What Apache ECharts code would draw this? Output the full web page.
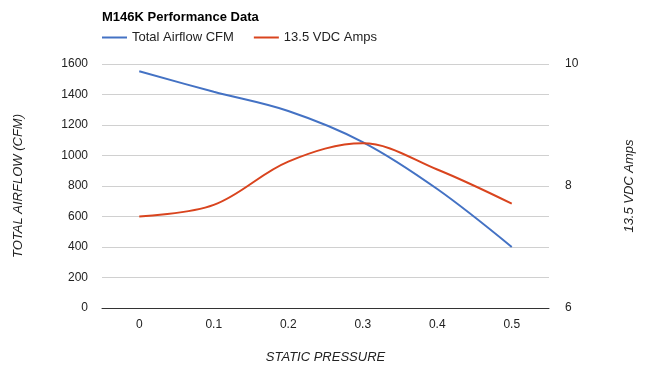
<!DOCTYPE html>
<html>
<head>
<meta charset="utf-8">
<script src="https://cdn.jsdelivr.net/npm/echarts@6/dist/echarts.min.js"></script>
<style>html,body{margin:0;padding:0;background:#fff;}#c{width:655px;height:369px;}</style>
</head>
<body>
<div id="c"></div>
<script>
var categories = ['0', '0.1', '0.2', '0.3', '0.4', '0.5'];
var airflow = [1552, 1418, 1292, 1088, 780, 400];
var amps = [7.5, 7.69, 8.4, 8.7, 8.27, 7.71];
var titleText = 'M146K Performance Data';
var airflowName = 'Total Airflow CFM';
var ampsName = '13.5 VDC Amps';

var chart = echarts.init(document.getElementById('c'), null, {renderer: 'canvas'});
var font = 'Liberation Sans, Arial, sans-serif';
chart.setOption({
  animation: false,
  textStyle: {fontFamily: font},
  title: {
    text: titleText, left: 97, top: 6,
    textStyle: {fontSize: 13, fontWeight: 'bold', color: '#000', fontFamily: font}
  },
  legend: {
    left: 97, top: 26, itemWidth: 25, itemHeight: 2, itemGap: 20, icon: 'rect',
    textStyle: {fontSize: 13, color: '#222', fontFamily: font},
    data: [airflowName, ampsName]
  },
  grid: {left: 102, right: 106, top: 64, bottom: 57},
  xAxis: {
    type: 'category', data: categories, boundaryGap: true,
    axisTick: {show: false},
    axisLine: {lineStyle: {color: '#333', width: 1}},
    axisLabel: {color: '#222', fontSize: 12, margin: 11},
    name: 'STATIC PRESSURE', nameLocation: 'middle', nameGap: 43,
    nameTextStyle: {fontStyle: 'italic', color: '#222', fontSize: 13}
  },
  yAxis: [{
    type: 'value', min: 0, max: 1600, interval: 200,
    axisLine: {show: false}, axisTick: {show: false},
    axisLabel: {color: '#222', fontSize: 12, margin: 14, formatter: function (v) { return String(v); }},
    splitLine: {lineStyle: {color: '#d0d0d0'}},
    name: 'TOTAL AIRFLOW (CFM)', nameLocation: 'middle', nameGap: 77,
    nameTextStyle: {fontStyle: 'italic', color: '#222', fontSize: 13}
  }, {
    type: 'value', min: 6, max: 10, interval: 2,
    axisLine: {show: false}, axisTick: {show: false},
    axisLabel: {color: '#222', fontSize: 12, margin: 16, formatter: function (v) { return String(v); }},
    splitLine: {show: false},
    name: '13.5 VDC Amps', nameLocation: 'middle', nameGap: 74,
    nameTextStyle: {fontStyle: 'italic', color: '#222', fontSize: 13}
  }],
  series: [{
    name: airflowName, type: 'line', yAxisIndex: 0, data: airflow,
    smooth: 0.35, symbol: 'none',
    lineStyle: {color: '#4472c4', width: 2}, itemStyle: {color: '#4472c4'}
  }, {
    name: ampsName, type: 'line', yAxisIndex: 1, data: amps,
    smooth: 0.35, symbol: 'none',
    lineStyle: {color: '#d9441e', width: 2}, itemStyle: {color: '#d9441e'}
  }]
});
</script>
</body>
</html>
